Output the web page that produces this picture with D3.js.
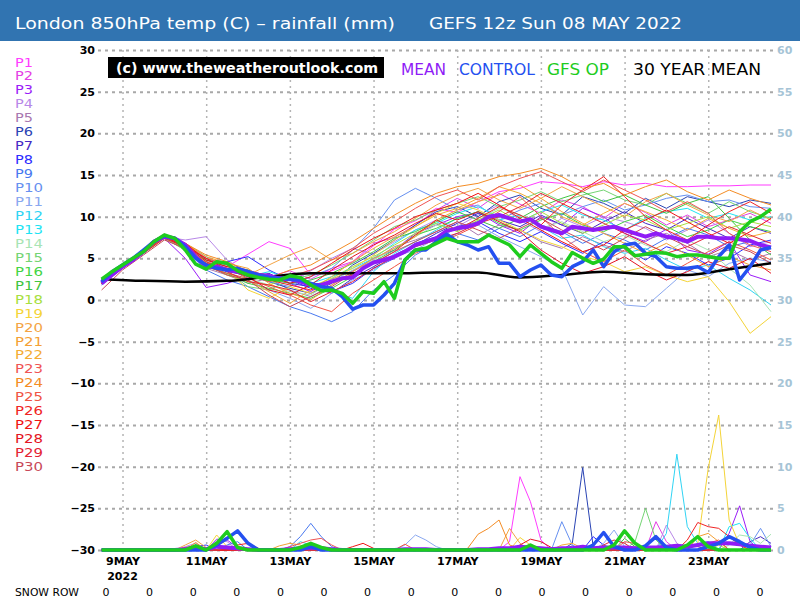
<!DOCTYPE html>
<html>
<head>
<meta charset="utf-8">
<script src="https://cdn.jsdelivr.net/npm/d3@7"></script>
<style>
  body { margin: 0; background: #fff; }
  svg { display: block; font-family: "DejaVu Sans", sans-serif; }
</style>
</head>
<body>
<div id="chart"></div>
<script>
// ---- data ----
// run start 08 May 2022 12z, ensemble members every 12h, main runs every 6h, climate daily
const memberNames = ['P1','P2','P3','P4','P5','P6','P7','P8','P9','P10','P11','P12','P13','P14','P15',
  'P16','P17','P18','P19','P20','P21','P22','P23','P24','P25','P26','P27','P28','P29','P30'];
const memberColors = ['#ff3cff','#e440e4','#9a1cf8','#b888e8','#a878b0','#2a44b4','#4628c4','#2c2cff',
  '#4878f0','#6690f0','#8aa8f0','#30d4f4','#1ee4f4','#a8e4b4','#74d474','#44d444','#40c440','#a8e040',
  '#f4d438','#f4a444','#f4a034','#f4ac34','#f05454','#f48c24','#f05444','#f02424','#f01414','#e41424',
  '#e42434','#c84858'];

// 850hPa temp per member, 12-hourly (33 points)
const memberTemp = [
  [2.2,4.2,6.0,7.8,6.5,4.6,4.0,5.5,7.0,6.2,3.0,3.5,4.5,6.5,8.5,9.5,11.0,10.5,11.8,13.0,13.4,14.2,14.0,13.6,14.2,13.8,14.0,13.6,13.6,13.7,13.7,13.8,13.8],
  [2.3,4.1,5.9,7.9,6.8,5.0,4.2,3.6,2.8,3.5,2.5,3.8,4.6,6.8,7.5,9.0,10.8,12.2,11.0,12.8,11.5,10.4,12.0,11.2,9.8,11.6,10.5,9.0,10.2,8.8,9.6,10.4,9.2],
  [2.0,4.0,5.8,7.4,5.0,1.5,2.0,2.8,3.0,2.0,1.0,2.5,3.5,5.0,6.0,8.0,9.0,10.0,10.5,9.0,8.0,10.0,9.0,11.0,10.0,8.0,7.0,8.5,6.0,5.5,7.0,3.0,2.2],
  [2.1,3.9,5.7,7.6,7.2,7.6,4.8,3.2,2.4,2.0,3.5,5.0,6.2,5.5,7.0,8.4,9.6,8.8,10.2,11.4,9.6,8.2,9.8,8.8,10.0,9.4,8.6,7.2,8.4,9.6,8.0,6.4,7.0],
  [1.9,4.0,5.6,7.5,6.0,3.8,3.0,2.0,2.6,1.2,0.4,1.8,3.4,4.8,6.4,7.2,8.2,9.4,7.8,9.0,8.4,7.0,6.2,7.6,6.6,5.8,7.2,8.0,6.8,5.2,6.0,4.8,5.6],
  [2.2,4.2,6.1,7.8,6.4,4.4,3.4,3.0,2.2,1.4,0.8,2.0,4.2,5.6,7.2,9.0,10.6,11.2,10.0,11.8,12.6,11.0,10.2,12.4,11.6,10.4,12.2,11.0,12.4,11.8,11.2,12.0,11.6],
  [2.0,3.8,5.8,7.6,6.8,4.2,3.8,2.6,3.2,2.0,1.6,0.8,2.6,4.0,5.4,6.6,8.0,9.2,10.4,9.6,8.8,10.2,9.0,8.0,9.4,10.6,9.2,8.4,9.8,8.6,7.4,8.8,8.0],
  [2.1,4.0,5.9,7.7,6.2,4.0,4.6,5.2,3.6,2.4,1.4,1.0,2.0,3.8,5.0,6.8,7.6,8.8,9.4,8.0,7.0,8.2,6.8,5.6,7.0,6.2,4.8,6.4,5.6,4.2,5.0,6.6,7.2],
  [1.8,3.8,5.6,7.4,6.0,3.6,2.4,1.6,0.4,-0.8,-1.6,-2.6,-1.4,1.2,3.0,5.4,6.8,8.0,7.2,8.6,7.6,9.0,8.2,6.8,8.0,7.2,6.0,7.4,8.6,7.8,6.4,7.0,6.2],
  [2.0,4.1,5.9,7.8,6.6,4.6,3.8,3.0,2.2,1.6,2.8,3.8,6.0,8.6,12.0,13.4,12.2,10.8,11.4,9.6,10.8,11.6,10.2,11.2,12.0,10.8,11.4,12.2,12.6,11.8,12.0,11.2,11.0],
  [2.2,4.0,5.6,7.6,6.2,4.2,3.2,2.4,1.2,0.2,-1.0,0.8,2.4,3.6,5.2,6.0,7.4,8.6,9.0,7.6,6.4,5.2,3.8,-1.8,1.6,-0.6,-0.8,1.4,3.6,2.8,4.4,5.0,4.6],
  [2.1,4.0,5.8,7.7,6.6,4.8,4.2,3.4,3.0,2.4,1.8,1.0,0.2,3.4,5.6,7.0,8.4,9.8,10.6,9.6,10.2,8.8,7.4,7.8,6.4,5.6,6.2,4.8,3.6,4.2,2.6,1.2,-0.6],
  [2.0,3.9,5.7,7.5,6.8,5.2,3.6,2.8,3.4,2.6,2.0,2.8,3.8,5.0,6.8,8.4,9.2,10.4,11.2,10.0,9.4,10.6,11.4,10.2,9.6,8.4,9.8,10.6,11.0,9.8,10.4,9.6,10.0],
  [2.2,4.1,5.8,7.6,6.4,4.4,3.0,2.6,1.8,1.0,0.6,2.2,3.6,4.8,6.2,7.6,9.0,8.4,9.8,11.0,10.2,8.6,9.4,8.2,7.0,7.8,6.6,5.8,7.2,6.0,3.8,1.8,-1.4],
  [2.0,3.9,5.7,7.7,6.6,4.6,3.4,1.6,1.2,2.4,3.0,4.2,5.6,7.2,8.8,9.6,10.8,11.6,12.4,11.2,12.0,13.0,11.8,12.6,13.2,12.0,11.4,12.8,11.6,10.4,11.8,10.6,9.8],
  [2.3,4.2,6.0,7.9,6.8,4.0,3.2,2.0,1.4,0.8,0.2,1.4,2.8,4.6,6.0,7.8,8.6,9.8,10.6,9.2,8.4,9.6,10.4,9.0,8.2,9.4,10.2,8.8,7.6,8.4,9.6,8.8,8.2],
  [2.1,4.0,5.8,7.6,6.2,4.8,4.0,3.6,2.6,2.0,2.4,3.2,4.4,5.8,7.4,8.2,9.4,10.6,9.6,8.6,9.8,11.2,12.2,13.0,11.8,12.6,11.4,10.4,11.6,12.4,9.8,7.2,5.4],
  [2.0,3.9,5.6,7.4,6.0,4.2,3.0,2.2,1.8,2.8,1.6,2.6,4.0,5.2,6.6,8.0,9.2,8.2,9.6,10.8,9.4,10.6,9.2,8.0,9.0,10.2,9.6,8.4,9.2,10.0,8.6,9.4,8.8],
  [2.2,4.1,5.9,7.8,6.6,4.4,3.6,1.2,0.2,1.6,0.8,2.4,3.8,5.4,7.2,8.8,10.4,11.6,10.8,9.6,8.4,7.2,6.4,5.2,4.6,3.4,4.0,3.0,2.2,2.8,-0.2,-4.0,-2.0],
  [2.1,4.0,5.8,7.6,6.4,4.6,3.8,3.0,4.2,5.4,6.4,4.8,5.6,7.0,8.2,9.8,11.4,12.6,13.4,12.0,11.0,12.2,13.6,12.4,11.2,10.0,11.8,12.8,11.4,10.2,9.4,10.8,9.6],
  [2.0,3.9,5.7,7.5,6.8,5.2,4.4,3.8,2.0,0.8,0.0,1.8,3.4,5.0,6.2,7.6,9.6,10.8,11.8,12.6,13.8,12.2,10.6,9.2,8.0,6.8,5.6,6.8,5.4,4.0,5.2,4.2,3.6],
  [2.2,4.2,6.0,7.9,6.8,5.0,4.4,2.4,1.0,-0.4,1.2,2.8,4.6,6.2,7.6,8.8,10.2,11.0,12.2,13.6,12.8,11.6,10.0,9.0,10.4,11.6,10.6,9.6,8.4,9.8,8.6,7.6,8.2],
  [2.0,3.9,5.7,7.6,6.6,5.0,4.2,3.0,2.2,2.8,3.6,4.8,6.2,8.0,9.4,11.0,12.4,13.2,12.0,13.6,14.6,15.4,14.2,13.0,14.4,13.2,12.0,10.6,11.8,10.4,8.0,6.6,5.8],
  [2.1,4.0,5.9,7.8,6.8,5.4,4.6,3.4,2.6,3.6,4.2,5.6,7.0,8.6,10.2,11.6,12.8,13.6,14.0,14.8,15.2,15.8,14.8,13.4,14.0,12.6,13.6,14.4,13.0,12.0,13.2,12.2,11.4],
  [2.3,4.1,5.8,7.6,6.2,4.0,3.2,2.6,1.6,0.6,-0.6,-1.4,0.8,2.4,4.0,5.6,6.8,7.8,9.0,10.6,12.4,10.0,7.6,5.8,4.6,6.0,4.2,3.0,4.4,5.8,7.0,6.0,4.8],
  [2.0,3.8,5.6,7.4,6.4,4.4,3.8,3.2,2.4,1.8,1.2,2.2,3.0,4.4,5.8,7.8,9.6,8.4,9.8,11.2,10.2,9.0,11.4,13.2,14.8,12.4,10.0,8.4,7.2,9.0,10.6,11.8,10.4],
  [2.2,4.1,5.9,7.7,6.8,4.8,4.0,3.4,3.0,2.0,2.8,4.4,6.0,7.4,8.6,10.0,10.8,11.6,12.8,11.4,9.8,8.4,7.0,5.8,6.6,8.4,9.6,10.8,9.4,8.0,6.8,8.2,9.8],
  [2.1,4.0,5.8,7.6,6.4,5.0,3.6,2.8,1.2,0.6,1.8,3.6,5.2,6.6,7.8,9.2,10.4,9.6,10.6,9.4,8.2,6.0,4.4,3.2,4.0,5.2,3.6,2.4,3.4,4.6,3.8,5.0,3.2],
  [2.0,3.9,5.7,7.6,6.6,4.6,3.4,2.2,1.8,1.2,-0.2,1.0,2.2,3.8,5.2,6.4,7.2,8.0,9.2,10.0,11.2,12.8,11.6,10.4,9.2,8.0,6.8,5.6,6.4,7.6,8.8,7.8,6.8],
  [1.2,3.6,5.4,7.2,6.2,4.2,3.0,2.4,0.6,-0.8,0.4,1.6,3.2,4.4,5.8,7.0,8.2,9.4,8.4,7.4,8.6,9.8,8.4,7.2,6.0,7.4,8.8,7.6,6.4,5.4,6.6,5.8,4.4]
];

// rainfall per member, 6-hourly (65 points)
const memberRain = [
  [0,0,0,0,0, 0,0,0,0,0.3, 0,0,0,0,0, 0,0,0,0,0, 0,0,0,0,0, 0,0,0,0,0, 0,0,0,0,0, 0,0,0,0,1.0, 8.8,5.8,1.2,0,0, 0,0,0,0,0, 0,0,0,0,0, 0,0,0,0,0, 0,0,0,0,0],
  [0,0,0,0,0, 0,0,0,0.2,0.5, 0,0,0,0,0, 0,0,0,0,0, 0,0,0,0,0, 0,0,0,0,0, 0,0,0,0,0, 0,0,0,0,0, 0,0,0,0,0, 0,0,0,0,0, 0,0,0,3.4,1.0, 0,0,0,0,0, 0,0,0,0,0],
  [0,0,0,0,0, 0,0,0,0,0, 0,1.3,1.2,0.3,0, 0,0,0,0,0, 0,0,0,0,0, 0,0,0,0,0, 0,0,0,0,0, 0,0,0,0,0, 0,0,0,0,0, 0,0,0,0,0, 0,0,0,0,0, 0,0,0,0,0, 2.0,5.3,1.0,0,0],
  [0,0,0,0,0, 0,0,0,0.4,0.8, 0,1.2,1.0,0,0, 0,0,0,0,0, 0,0,0,0,0, 0,0,0,0,0, 0,0,0,0,0, 0,0,0,0,0, 0,0,0,0,0, 0,0,0,0,0, 0,0,0,0,3.0, 0.8,0,0,0,0, 0,0,0,0,0],
  [0,0,0,0,0, 0,0,0,0,0.6, 0.2,0,0,0,0, 0,0,0,0,0, 0,0,0,0,0, 0,0,0,0,0, 0,0,0,0,0, 0,0,0,0,0, 0,0,0,0,0, 0,0,0,0,0, 0,0,0,0,0, 0,0,0,0,0, 0,0,0,0.4,0],
  [0,0,0,0,0, 0,0,0,0,0, 0,0,0,0,0, 0,0,0,0,0, 0,0,0,0,0, 0,0,0,0,0, 0,0,0,0,0, 0,0,0,0,0, 0,0,0,0,0, 0.8,9.9,0.4,0,0, 0,0,0,0,0, 0,0,0,0,0, 0,0,0,0,0],
  [0,0,0,0,0, 0,0,0,0,0, 0,0,0,0,0, 0,0,0,0,0, 0,0,0,0,0, 0,0,0,0,0, 0,0,0,0,0, 0,0,0,0,0, 0,0,0,0,0, 0.5,0,0,0,0, 0,0,0,0,0, 0,0,0,0,0, 0,0,1.0,1.6,0.8],
  [0,0,0,0,0, 0,0,0,0,0.4, 0.6,0,0,0,0, 0,0,0,0,0, 0,0,0,0,0, 0,0,0,0,0, 0,0,0,0,0, 0,0,0,0,0, 0,0,0,0,0, 0,0,1.6,0.6,0, 0,0,0,0,0, 0,0,0,0,0, 0,0,0,0,0],
  [0,0,0,0,0, 0,0,0,0,0, 0,0,0.6,1.0,0, 0,0,0,0.4,1.6, 3.2,1.6,0.4,0,0, 0,0,0,0,0, 0,0,0,0,0, 0,0,0,0,0, 0,0,0,0,0, 0,0,0,0,0, 0,0,0,0,0, 0,0,0,0,0, 0,0,0,0,0],
  [0,0,0,0,0, 0,0,0,0,0, 0,0,0,0,0, 0,0,0,0,0, 0,0,0,0,0, 0,0,0,0,0, 0,0,0,0,0, 0,0,0,0,0, 0,0,0,0,3.4, 0.6,0,0,0,0, 0,0,0,0,0, 0,0,0,0,0, 0,0,0.6,2.6,0.4],
  [0,0,0,0,0, 0,0,0,0,0, 0,0,0,0,0, 0,0,0,0,0, 0,0,0,0,0, 0,0,0,0,0.6, 1.8,1.2,0.4,0,0, 0,0,0,0,0, 0,0,0,0,0, 0,0,0,0.8,2.4, 0.4,0,0,0,0, 0,0,0,0,0, 0,0,0,0,0],
  [0,0,0,0,0, 0,0,0,0,0, 0,0,0,0,0, 0,0,0,0,1.0, 0.6,0,0,0,0, 0,0,0,0,0, 0,0,0,0,0, 0,0,0,0,0, 0,0,0,0,0, 0,0,0,0,0, 0,0,0,0,2.0, 11.5,2.8,0.8,1.0,0, 0,0,0,0,0],
  [0,0,0,0,0, 0,0,0,0,0, 0,0.3,0,0,0, 0,0,0,0,0, 0,0,0,0,0, 0,0,0,0,0, 0,0,0,0,0, 0,0,0,0,0, 0,0,0,0,0, 0,0,0,0,0, 0,0,0,0,0, 0,0,0,0,0, 2.8,3.2,1.4,0,0],
  [0,0,0,0,0, 0,0,0,0,0, 0,0,0,0,0, 0,0,0,0,0, 0,0,0,0,0, 0,0,0,0,0, 0,0,0,0,0, 0,0,0,0,0, 0,0,0,0,0, 0,0,0,0,0, 0,0,0,0,0, 0,0,0,0,0, 0.6,1.8,1.6,0.8,1.9],
  [0,0,0,0,0, 0,0,0,0,0, 0,0,0,0,0, 0,0,0,0,0, 0,0,0,0,0, 0,0,0,0,0, 0,0,0,0,0, 0,0,0,0,0, 0,0,0,0,0, 0,0,0,0,0, 0,1.0,5.0,1.2,0, 0,0,0,0,0, 0,0,0,0,0],
  [0,0,0,0,0, 0,0,0,0,0.4, 0,0,0,0,0, 0,0,0,0,0, 0,0,0,0,0, 0,0,0,0,0, 0,0,0,0,0, 0,0,0,0,0, 0,0,0,0,0, 0,0,0,0.5,0.3, 0,0,0,0,0, 0,0,0,0,0, 0,0,0,0,0],
  [0,0,0,0,0, 0,0,0,0,0, 0,0,0,0,0, 0,0,0,0,0, 0.3,0,0,0,0, 0,0,0,0,0, 0,0,0,0,0, 0,0,0,0,0, 0,0,0,0,0, 0,0,0,0,0, 1.4,0.4,0,0,0, 0,0,0,0,0, 0,0,0,0,0],
  [0,0,0,0,0, 0,0,0,0,0, 0,0,0,0,0, 0,0,0,0,0, 0,0,0,0,0, 0,0,0,0,0, 0,0,0,0,0, 0,0,0,0,0, 0.4,0,0,0,0, 0,0,0,0,0, 0,0,0,0,0, 0,0,0,0,0.6, 0,0,0,0,0],
  [0,0,0,0,0, 0,0,0,0,0, 0,1.8,0.4,0,0, 0,0,0,0,0, 0,0,0,0,0, 0,0,0,0,0, 0,0,0,0,0, 0,0,0,0,0, 1.5,0.6,0,0,0, 0,0,0,0,0, 0,0,0,0,0, 0,0,0.8,9.8,16.2, 3.6,0.6,0,0,0],
  [0,0,0,0,0, 0,0,0,0.6,1.2, 0.3,0,0,0,0, 0,0,0,0,0, 0,0,0,0,0, 0,0,0,0,0, 0,0,0,0,0, 0,0,0,0,2.6, 0.8,0,0,0,0, 0,0,0,0,0, 0,0,0,0,0, 0,0,0,0,0, 0,0,0,0,0],
  [0,0,0,0,0, 0,0,0,0,0, 0,0,0,0,0, 0,0,0.5,0.8,0.6, 0,0,0,0,0, 0,0,0,0,0, 0,0,0,0,0, 0,0,0,0,0, 0,0,0,0,0, 0,0,0,0,0, 0,0,0,0,0, 0,0,1.6,2.0,1.0, 0,0,0,0,0],
  [0,0,0,0,0, 0,0,0,0,0, 0,0,0,0,0, 0,0,0,0,0, 0,0,0,0,0, 0,0,0,0,0, 0,0,0,0,0, 0,0,0,0,0, 0,0,0,0,0.6, 0.8,0.2,0,0,0, 0,0,0,0,0, 0,0,0,0,0, 0,0,0,0,0],
  [0,0,0,0,0, 0,0,0,0,0, 0,0,0,0,0, 0,0,0,0.4,0.8, 1.2,1.4,0.6,0,0, 0,0,0,0,0, 0,0,0,0,0, 0,0,0,0,0, 0,0,0,0,0, 0,0,0,0,0, 1.0,0.8,0,0,0, 0,0,0,0,0, 0,0,0,0,0],
  [0,0,0,0,0, 0,0,0,0,0.9, 0,0,0,0,0, 0,0,0,0,0, 0,0,0,0,0, 0,0,0,0,0, 0,0,0,0,0, 0.2,1.9,2.6,3.6,0.6, 0.2,0,0,0,0, 0,0,0,0,0, 0,0,0,0,0, 0,0,0,0,0, 0,0,0,0,0],
  [0,0,0,0,0, 0,0,0,0,0, 0,0,0,0,0, 0,0,0,0,0, 0,0,0,0,0, 0,0,0,0,0.7, 0,0,0,0,0, 0,0,0,0,0, 0,0,0,0,0, 0,0,0,0,0, 0,0,0,0,0, 0,0,0,0.8,1.2, 0,0,0,0,0],
  [0,0,0,0,0, 0,0,0,0.3,0.5, 0,0,0,0.6,0.8, 0.2,0,0,0,0, 0,0,0,0,0, 0,0,0,0,0, 0,0,0,0,0, 0,0,0,0,0, 0,0,0,0,0, 0,0,0,0,0, 0,0,0,0,0, 0,1.2,3.3,2.8,2.6, 1.6,0.6,0,0,0],
  [0,0,0,0,0, 0,0,0,0,0, 0,0,0,0,0, 0,0,0,0,0, 0,0,0,0,0.4, 0.8,0.2,0,0,0, 0,0,0,0,0, 0,0,0,0,0, 0,0,0,0,0, 0,0,0,0,0, 0,0,0,0,0, 0.4,0,0,0,0, 0,0,0,0,0],
  [0,0,0,0,0, 0,0,0,0,0, 0,0,0,0,0, 0,0,0,0,0, 0,0,0,0,0, 0,0,0,0,0, 0,0,0,0,0, 0,0,0,0,0, 0.6,1.3,1.0,0.3,0, 0,0,0,0,0, 0,0,0,0,0, 0,0,0,0,0, 0,0,0,0,0],
  [0,0,0,0,0, 0,0,0,0,0, 0,0,0,0,0, 0,0,0,0,0, 0,0,0,0,0, 0,0,0,0,0, 0,0,0,0,0, 0,0,0,0,0, 0,0,0,0,0, 0,0,0,0.6,1.2, 0.8,0,0,0,0, 0,0,0,0,0, 0,0,0,0,0],
  [0,0,0,0,0, 0,0,0,0,0, 0,0,0.3,0,0, 0,0,0,0,0, 0,0,0,0,0, 0,0,0,0,0, 0,0,0,0,0, 0,0,0,0,0, 0,0,0,0,0, 0,0,0,0,0, 0,0,0,0,0, 0,0.6,0.4,0,0, 0,0,0,0,0]
];

// highlighted runs, 6-hourly (65 points)
const meanTemp = [2.0,3.0,4.0,4.8,5.8,7.0,7.6,7.4,6.6,5.2,4.0,4.0,3.6,3.4,3.3,3.0,2.9,2.6,2.5,2.2,
  1.8,1.8,2.2,2.6,2.7,3.8,4.5,4.8,5.2,5.8,6.6,7.0,7.4,8.3,8.6,8.8,9.2,10.0,10.2,9.8,
  9.4,9.7,8.8,8.4,8.0,8.8,8.6,8.4,8.6,8.8,8.4,8.0,7.6,8.0,7.6,7.4,7.0,7.6,7.6,7.4,
  7.4,7.3,7.1,6.6,6.3];
const controlTemp = [2.2,3.4,4.2,5.0,6.0,7.0,7.7,7.4,6.4,5.0,4.2,3.8,3.6,3.8,3.4,3.0,2.7,2.6,2.5,2.4,
  2.0,1.6,1.4,0.4,-1.1,-0.6,-0.6,0.6,2.0,4.8,6.0,6.0,7.0,7.9,7.0,6.6,6.0,6.4,4.4,4.4,
  2.8,3.6,4.2,3.0,2.8,4.0,4.6,6.0,4.0,5.8,6.6,6.8,5.6,5.2,4.0,3.8,3.8,4.0,3.3,5.2,
  6.6,2.4,4.0,6.0,6.3];
const opTemp = [2.5,3.4,4.2,5.0,5.8,7.0,7.8,7.4,6.0,4.3,3.7,4.6,4.4,3.5,3.0,2.7,2.5,2.4,2.9,2.7,
  1.8,1.1,1.2,0.8,-0.4,1.0,0.8,2.2,0.2,4.8,6.0,6.2,6.8,7.4,7.0,7.0,7.0,7.8,7.2,6.6,
  5.2,6.6,5.6,4.6,3.8,5.7,5.0,4.4,4.9,6.4,6.4,5.3,5.5,5.7,5.6,5.2,5.4,5.4,5.2,5.0,
  5.0,8.2,9.4,10.0,10.9];
const meanRain = [0,0,0,0,0, 0,0,0,0.1,0.3, 0.1,0.4,0.3,0.2,0.1, 0,0,0,0.1,0.2, 0.3,0.2,0.1,0,0,
  0,0,0,0,0.1, 0.1,0.1,0,0,0, 0,0.1,0.1,0.2,0.2, 0.4,0.3,0.2,0.1,0.2, 0.2,0.4,0.2,0.3,0.3,
  0.3,0.2,0.3,0.3,0.4, 0.5,0.4,0.6,0.8,0.8, 0.8,0.7,0.5,0.4,0.3];
const controlRain = [0,0,0,0,0, 0,0,0,0,0, 0,0.6,1.4,2.3,0.8, 0,0,0,0,0, 0.4,0,0,0,0,
  0,0,0,0,0, 0,0,0,0,0, 0,0,0,0,0, 0,0,0,0,0, 0,0,0.6,2.1,0.4,
  0,0,0.5,1.6,0.3, 0,0,0,0.4,0.8, 1.6,1.0,0.3,0,0];
const opRain = [0,0,0,0,0, 0,0,0,0,0.5, 0,0.8,2.2,0.3,0, 0,0,0,0,0.3, 0.8,0.3,0,0,0,
  0,0,0,0,0, 0,0,0,0,0, 0,0,0,0,0, 0,0.6,0,0,0, 0,0,0,0,0.6,
  2.3,0.8,0,0,0, 0,0.6,1.6,0.4,0, 0,0,0,0,0];
// 30 year mean, daily at 12z (17 points)
const climTemp = [2.5,2.3,2.2,2.3,2.8,3.2,3.2,3.2,3.3,3.3,2.7,3.0,3.4,3.1,3.0,3.7,4.4];

const tempTicks = [-30,-25,-20,-15,-10,-5,0,5,10,15,20,25,30];
const rainTicks = [0,5,10,15,20,25,30,35,40,45,50,55,60];
const dateTicks = [9,11,13,15,17,19,21,23];
const snowRow = [0,0,0,0,0,0,0,0,0,0,0,0,0,0,0,0];

// ---- layout ----
const width = 800, height = 600;
const gridLeft = 98, gridRight = 774;
const runStart = Date.UTC(2022, 4, 8, 12);
const hour = 3600 * 1000;

const x = d3.scaleUtc()
  .domain([new Date(runStart), new Date(runStart + 384 * hour)])
  .range([101.6, 771]);
const yT = d3.scaleLinear().domain([-30, 30]).range([550, 50]);
const yR = d3.scaleLinear().domain([0, 60]).range([550, 50]);

// turn a value list into time points, stepHours apart
const toPoints = (values, stepHours) => values.map((v, i) => ({ t: new Date(runStart + i * stepHours * hour), v }));

const tempLine = d3.line().x(d => x(d.t)).y(d => yT(d.v));
const rainLine = d3.line().x(d => x(d.t)).y(d => yR(d.v));

const svg = d3.select('#chart')
  .append('svg')
  .attr('width', width)
  .attr('height', height);

svg.append('rect').attr('width', width).attr('height', height).attr('fill', '#fff');

// blue title band
svg.append('rect').attr('width', width).attr('height', 41).attr('fill', '#3174b1');
svg.append('text')
  .attr('x', 15).attr('y', 29)
  .attr('fill', '#fff').attr('font-size', 16)
  .attr('textLength', 380).attr('lengthAdjust', 'spacingAndGlyphs')
  .text('London 850hPa temp (C) \u2013 rainfall (mm)');
svg.append('text')
  .attr('x', 429).attr('y', 29)
  .attr('fill', '#fff').attr('font-size', 16)
  .attr('textLength', 253).attr('lengthAdjust', 'spacingAndGlyphs')
  .text('GEFS 12z Sun 08 MAY 2022');

// horizontal grid + temperature labels
svg.append('g')
  .attr('transform', `translate(${gridLeft},0)`)
  .call(d3.axisLeft(yT).tickValues(tempTicks).tickSize(-(gridRight - gridLeft)).tickPadding(3).tickFormat(d3.format('d')))
  .call(g => g.select('.domain').remove())
  .call(g => g.selectAll('line').attr('stroke', '#a8a8a8').attr('stroke-width', 2).attr('stroke-dasharray', '3,4'))
  .call(g => g.selectAll('text').attr('fill', '#000').attr('font-weight', 'bold'))
  .attr('font-family', 'DejaVu Sans').attr('font-size', 11);

// rainfall labels on the right
svg.append('g')
  .attr('transform', `translate(${gridRight},0)`)
  .call(d3.axisRight(yR).tickValues(rainTicks).tickSize(0).tickPadding(3))
  .call(g => g.select('.domain').remove())
  .call(g => g.selectAll('text').attr('fill', '#a6c4d6').attr('font-weight', 'bold'))
  .attr('font-family', 'DejaVu Sans').attr('font-size', 11);

// vertical grid + dates
svg.append('g')
  .attr('transform', 'translate(0,550)')
  .call(d3.axisBottom(x)
    .tickValues(dateTicks.map(d => new Date(Date.UTC(2022, 4, d))))
    .tickSize(-500).tickPadding(7)
    .tickFormat(d => d3.utcFormat('%-d')(d) + 'MAY'))
  .call(g => g.select('.domain').remove())
  .call(g => g.selectAll('line').attr('stroke', '#b4b4b4').attr('stroke-width', 1.5).attr('stroke-dasharray', '2,4'))
  .call(g => g.selectAll('text').attr('fill', '#000').attr('font-weight', 'bold'))
  .attr('font-family', 'DejaVu Sans').attr('font-size', 11);

svg.append('text')
  .attr('x', x(new Date(Date.UTC(2022, 4, 9)))).attr('y', 580)
  .attr('text-anchor', 'middle').attr('font-size', 11).attr('font-weight', 'bold')
  .text('2022');

// ensemble members: temperature and rain
const members = svg.append('g').attr('fill', 'none').attr('stroke-width', 1);
members.selectAll('path.temp')
  .data(memberTemp)
  .enter()
  .append('path')
  .attr('class', 'temp')
  .attr('stroke', (d, i) => memberColors[i])
  .attr('d', d => tempLine(toPoints(d, 12)));
members.selectAll('path.rain')
  .data(memberRain)
  .enter()
  .append('path')
  .attr('class', 'rain')
  .attr('stroke', (d, i) => memberColors[i])
  .attr('d', d => rainLine(toPoints(d, 6)));

// 30 year mean
svg.append('path')
  .attr('fill', 'none').attr('stroke', '#000').attr('stroke-width', 2.5)
  .attr('d', d3.line().curve(d3.curveMonotoneX).x(d => x(d.t)).y(d => yT(d.v))(toPoints(climTemp, 24)));

// mean, control, GFS op
const mainRuns = [
  { temp: meanTemp, rain: meanRain, color: '#8f1cf6', w: 4 },
  { temp: controlTemp, rain: controlRain, color: '#2450f0', w: 3.5 },
  { temp: opTemp, rain: opRain, color: '#1ecc1e', w: 3.5 }
];
mainRuns.forEach(r => {
  svg.append('path')
    .attr('fill', 'none').attr('stroke', r.color).attr('stroke-width', r.w).attr('stroke-linejoin', 'round')
    .attr('d', tempLine(toPoints(r.temp, 6)));
  svg.append('path')
    .attr('fill', 'none').attr('stroke', r.color).attr('stroke-width', r.w).attr('stroke-linejoin', 'round')
    .attr('d', rainLine(toPoints(r.rain, 6)));
});

// member legend down the left side (small font, stretched to the reference width)
svg.append('g')
  .selectAll('text')
  .data(memberNames)
  .enter()
  .append('text')
  .attr('x', 15)
  .attr('y', (d, i) => 66.5 + i * 13.95)
  .attr('font-size', 11.8)
  .attr('fill', (d, i) => memberColors[i])
  .attr('textLength', d => d.length === 2 ? 18 : 28)
  .attr('lengthAdjust', 'spacingAndGlyphs')
  .text(d => d);

// top legend
svg.append('rect').attr('x', 108).attr('y', 57).attr('width', 276).attr('height', 21).attr('fill', '#000');
svg.append('text')
  .attr('x', 116).attr('y', 73)
  .attr('fill', '#fff').attr('font-size', 14).attr('font-weight', 'bold')
  .attr('textLength', 262).attr('lengthAdjust', 'spacingAndGlyphs')
  .text('(c) www.theweatheroutlook.com');

const legendItems = [
  { label: 'MEAN', color: '#8f1cf6', x0: 401, x1: 446 },
  { label: 'CONTROL', color: '#2450f0', x0: 459, x1: 535 },
  { label: 'GFS OP', color: '#1ecc1e', x0: 547, x1: 609 },
  { label: '30 YEAR MEAN', color: '#000', x0: 633, x1: 761 }
];
svg.append('g')
  .selectAll('text')
  .data(legendItems)
  .enter()
  .append('text')
  .attr('x', d => d.x0)
  .attr('y', 75)
  .attr('font-size', 16)
  .attr('fill', d => d.color)
  .attr('textLength', d => d.x1 - d.x0)
  .attr('lengthAdjust', 'spacingAndGlyphs')
  .text(d => d.label);

// snow row
svg.append('text')
  .attr('x', 15).attr('y', 596)
  .attr('font-size', 11)
  .attr('textLength', 64).attr('lengthAdjust', 'spacingAndGlyphs')
  .text('SNOW ROW');
const snowX = d3.scalePoint().domain(d3.range(snowRow.length)).range([106, 760]);
svg.append('g')
  .selectAll('text')
  .data(snowRow)
  .enter()
  .append('text')
  .attr('x', (d, i) => snowX(i))
  .attr('y', 596)
  .attr('text-anchor', 'middle')
  .attr('font-size', 11)
  .text(d => d);
</script>
</body>
</html>
